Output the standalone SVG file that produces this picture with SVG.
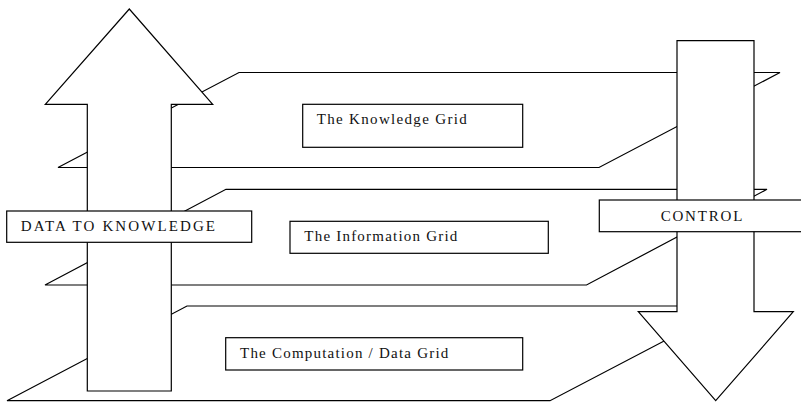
<svg xmlns="http://www.w3.org/2000/svg" width="801" height="402" viewBox="0 0 801 402">
<style>
.sh{fill:#fff;stroke:#000;stroke-width:1.2;stroke-linejoin:miter}
.ly{fill:none;stroke:#000;stroke-width:1.2}
.t{font-family:"Liberation Serif","Times New Roman",serif;font-size:15px;fill:#111}
</style>
<rect width="801" height="402" fill="#fff"/>
<g id="knowledge-grid">
<polygon class="ly" points="239,72.5 780,72.5 599,167.5 58,167.5"/>
<rect class="sh" x="302.7" y="104.3" width="220" height="43"/>
<text class="t" x="316.7" y="124.3" textLength="150" lengthAdjust="spacing">The Knowledge Grid</text>
</g>
<g id="information-grid">
<polygon class="ly" points="226,189.3 767,189.3 586.5,285 45,285"/>
<rect class="sh" x="290" y="221.3" width="258.3" height="32"/>
<text class="t" x="304.3" y="240.7" textLength="153" lengthAdjust="spacing">The Information Grid</text>
</g>
<g id="computation-data-grid">
<polygon class="ly" points="187,306 731,306 550,400.7 7,400.7"/>
<rect class="sh" x="225.7" y="337.7" width="297" height="32.3"/>
<text class="t" x="240" y="358.3" textLength="208.3" lengthAdjust="spacing">The Computation / Data Grid</text>
</g>
<g id="data-to-knowledge">
<polygon class="sh" points="129.3,9 212.7,104.3 171.3,104.3 171.3,391 87.3,391 87.3,104.3 45.3,104.3"/>
<rect class="sh" x="6.7" y="211" width="245" height="31.3"/>
<text class="t" x="20.7" y="230.7" textLength="194.3" lengthAdjust="spacing">DATA TO KNOWLEDGE</text>
</g>
<g id="control">
<polygon class="sh" points="677,40.7 754,40.7 754,311.7 793.3,311.7 715.7,400.7 638.3,311.7 677,311.7"/>
<rect class="sh" x="599.3" y="200" width="215" height="31.7"/>
<text class="t" x="660.7" y="220.5" textLength="81.6" lengthAdjust="spacing">CONTROL</text>
</g>
<g id="connectors"></g>
</svg>
